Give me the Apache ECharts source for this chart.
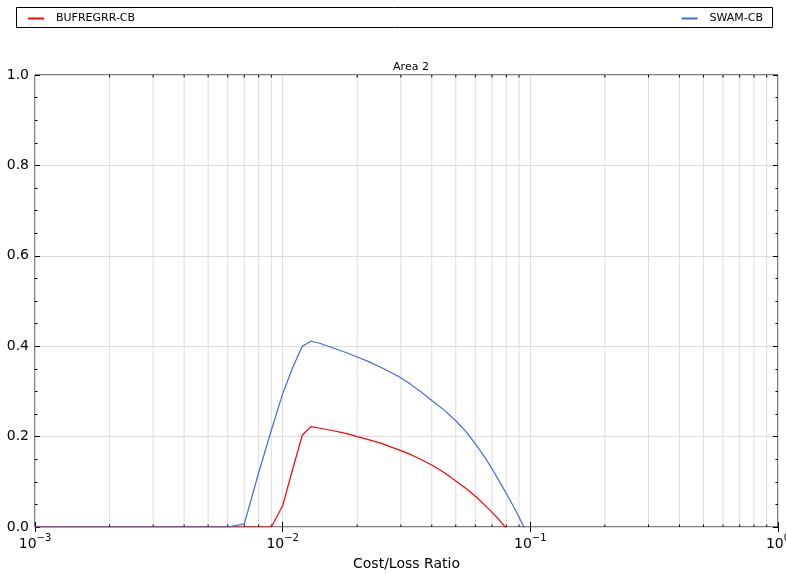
<!DOCTYPE html>
<html>
<head>
<meta charset="utf-8">
<script src="https://cdn.jsdelivr.net/npm/echarts@6/dist/echarts.min.js"></script>
<style>html,body{margin:0;padding:0;background:#fff;}#c{width:786px;height:574px;}</style>
</head>
<body>
<div id="c"></div>
<script>
var costLoss = [0.001,0.002,0.003,0.004,0.005,0.006,0.007,0.008,0.009,0.01,0.011,0.012,0.013,0.014,0.016,0.018,0.02,0.022,0.025,0.028,0.03,0.033,0.036,0.04,0.045,0.05,0.055,0.06,0.065,0.07,0.075,0.08,0.085,0.09,0.1];
var bufregrr = [0,0,0,0,0,0,0,0,0,0.047,0.13,0.203,0.222,0.219,0.213,0.207,0.200,0.194,0.185,0.175,0.169,0.160,0.150,0.137,0.120,0.102,0.085,0.068,0.050,0.033,0.015,-0.003,-0.02,-0.04,-0.08];
var swam     = [0,0,0,0,0,0,0.007,0.12,0.214,0.295,0.354,0.400,0.411,0.407,0.396,0.386,0.376,0.367,0.353,0.339,0.330,0.315,0.300,0.280,0.258,0.235,0.211,0.184,0.157,0.129,0.101,0.074,0.048,0.022,-0.03];
var minorX = [];
[0.001,0.01,0.1].forEach(function(d){ for (var k=2;k<=9;k++) minorX.push(+(d*k).toPrecision(3)); });

function pairs(xs, ys){ return xs.map(function(x,i){ return [x, ys[i]]; }); }

var chart = echarts.init(document.getElementById('c'));
var font = 'DejaVu Sans';
var xAxisBase = {
  type: 'log', logBase: 10, min: 0.001, max: 1,
  axisLine: {show: false},
  splitLine: {show: true, lineStyle: {color: '#dcdcdc', width: 1}},
  minorTick: {show: false}, minorSplitLine: {show: false}
};
chart.setOption({
  animation: false,
  backgroundColor: '#fff',
  textStyle: {fontFamily: font},
  title: {text: 'Area 2', left: 406, top: 57, textAlign: 'center',
    textStyle: {fontSize: 11, fontWeight: 'normal', color: '#000', fontFamily: font}},
  graphic: [{type: 'rect', shape: {x: 16.5, y: 7.5, width: 756, height: 20},
    style: {fill: '#fff', stroke: '#000', lineWidth: 1}, z: -1}],
  legend: [
    {data: ['BUFREGRR-CB'], left: 23, top: 8, itemWidth: 16, itemHeight: 2, icon: 'rect',
     textStyle: {fontSize: 11, color: '#000', fontFamily: font, padding: [0,0,0,7]}},
    {data: ['SWAM-CB'], right: 18, top: 8, itemWidth: 16, itemHeight: 2, icon: 'rect',
     textStyle: {fontSize: 11, color: '#000', fontFamily: font, padding: [0,0,0,7]}}
  ],
  grid: {left: 35, right: 8, top: 75, bottom: 47, containLabel: false, outerBoundsMode: 'none',
    show: true, borderColor: '#000', borderWidth: 1, backgroundColor: 'transparent'},
  xAxis: [
    Object.assign({}, xAxisBase, {
      position: 'bottom',
      axisTick: {show: true, inside: true, length: 5, lineStyle: {color: '#000'}},
      axisLabel: {margin: 6, color: '#000', fontFamily: font,
        formatter: function(v){ return '{b|10}{s|' + String(Math.round(Math.log10(v))).replace('-', '\u2212') + '}'; },
        rich: {b: {fontSize: 14, fontFamily: font, color: '#000', verticalAlign: 'bottom', lineHeight: 18},
               s: {fontSize: 10, fontFamily: font, color: '#000', verticalAlign: 'top', lineHeight: 18}}},
      name: 'Cost/Loss Ratio', nameLocation: 'middle', nameGap: 30,
      nameTextStyle: {fontSize: 14, color: '#000', fontFamily: font}
    }),
    Object.assign({}, xAxisBase, {
      position: 'top', splitLine: {show: false},
      axisTick: {show: true, inside: true, length: 5, lineStyle: {color: '#000'}},
      axisLabel: {show: false}
    })
  ],
  yAxis: [
    {type: 'value', min: 0, max: 1, interval: 0.2, position: 'left',
     axisLine: {show: false},
     axisTick: {show: true, inside: true, length: 5, lineStyle: {color: '#000'}},
     minorTick: {show: true, splitNumber: 4, length: 2.5, lineStyle: {color: '#000'}},
     splitLine: {show: true, lineStyle: {color: '#dcdcdc'}},
     axisLabel: {fontSize: 14, color: '#000', margin: 6, fontFamily: font,
       formatter: function(v){ return v.toFixed(1); }}},
    {type: 'value', min: 0, max: 1, interval: 0.2, position: 'right',
     axisLine: {show: false},
     axisTick: {show: true, inside: true, length: 5, lineStyle: {color: '#000'}},
     minorTick: {show: true, splitNumber: 4, length: 2.5, lineStyle: {color: '#000'}},
     splitLine: {show: false}, axisLabel: {show: false}}
  ],
  series: [
    {type: 'custom', xAxisIndex: 0, yAxisIndex: 0, silent: true, z: 1,
     data: minorX.map(function(v){ return [v]; }),
     renderItem: function(params, api){
       var b = api.coord([api.value(0), 0]);
       var t = api.coord([api.value(0), 1]);
       return {type: 'group', children: [
         {type: 'line', shape: {x1: b[0], y1: b[1], x2: t[0], y2: t[1]}, style: {stroke: '#dcdcdc', lineWidth: 1}},
         {type: 'line', shape: {x1: b[0], y1: b[1], x2: b[0], y2: b[1]-2.5}, style: {stroke: '#000', lineWidth: 1}},
         {type: 'line', shape: {x1: t[0], y1: t[1], x2: t[0], y2: t[1]+2.5}, style: {stroke: '#000', lineWidth: 1}}
       ]};
     }},
    {name: 'BUFREGRR-CB', type: 'line', xAxisIndex: 0, yAxisIndex: 0, data: pairs(costLoss, bufregrr),
     showSymbol: false, symbol: 'none', clip: true, z: 3,
     lineStyle: {color: '#ff0000', width: 1.2}, itemStyle: {color: '#ff0000'}},
    {name: 'SWAM-CB', type: 'line', xAxisIndex: 0, yAxisIndex: 0, data: pairs(costLoss, swam),
     showSymbol: false, symbol: 'none', clip: true, z: 4,
     lineStyle: {color: '#4169e1', width: 1.2}, itemStyle: {color: '#4169e1'}}
  ]
});
</script>
</body>
</html>
